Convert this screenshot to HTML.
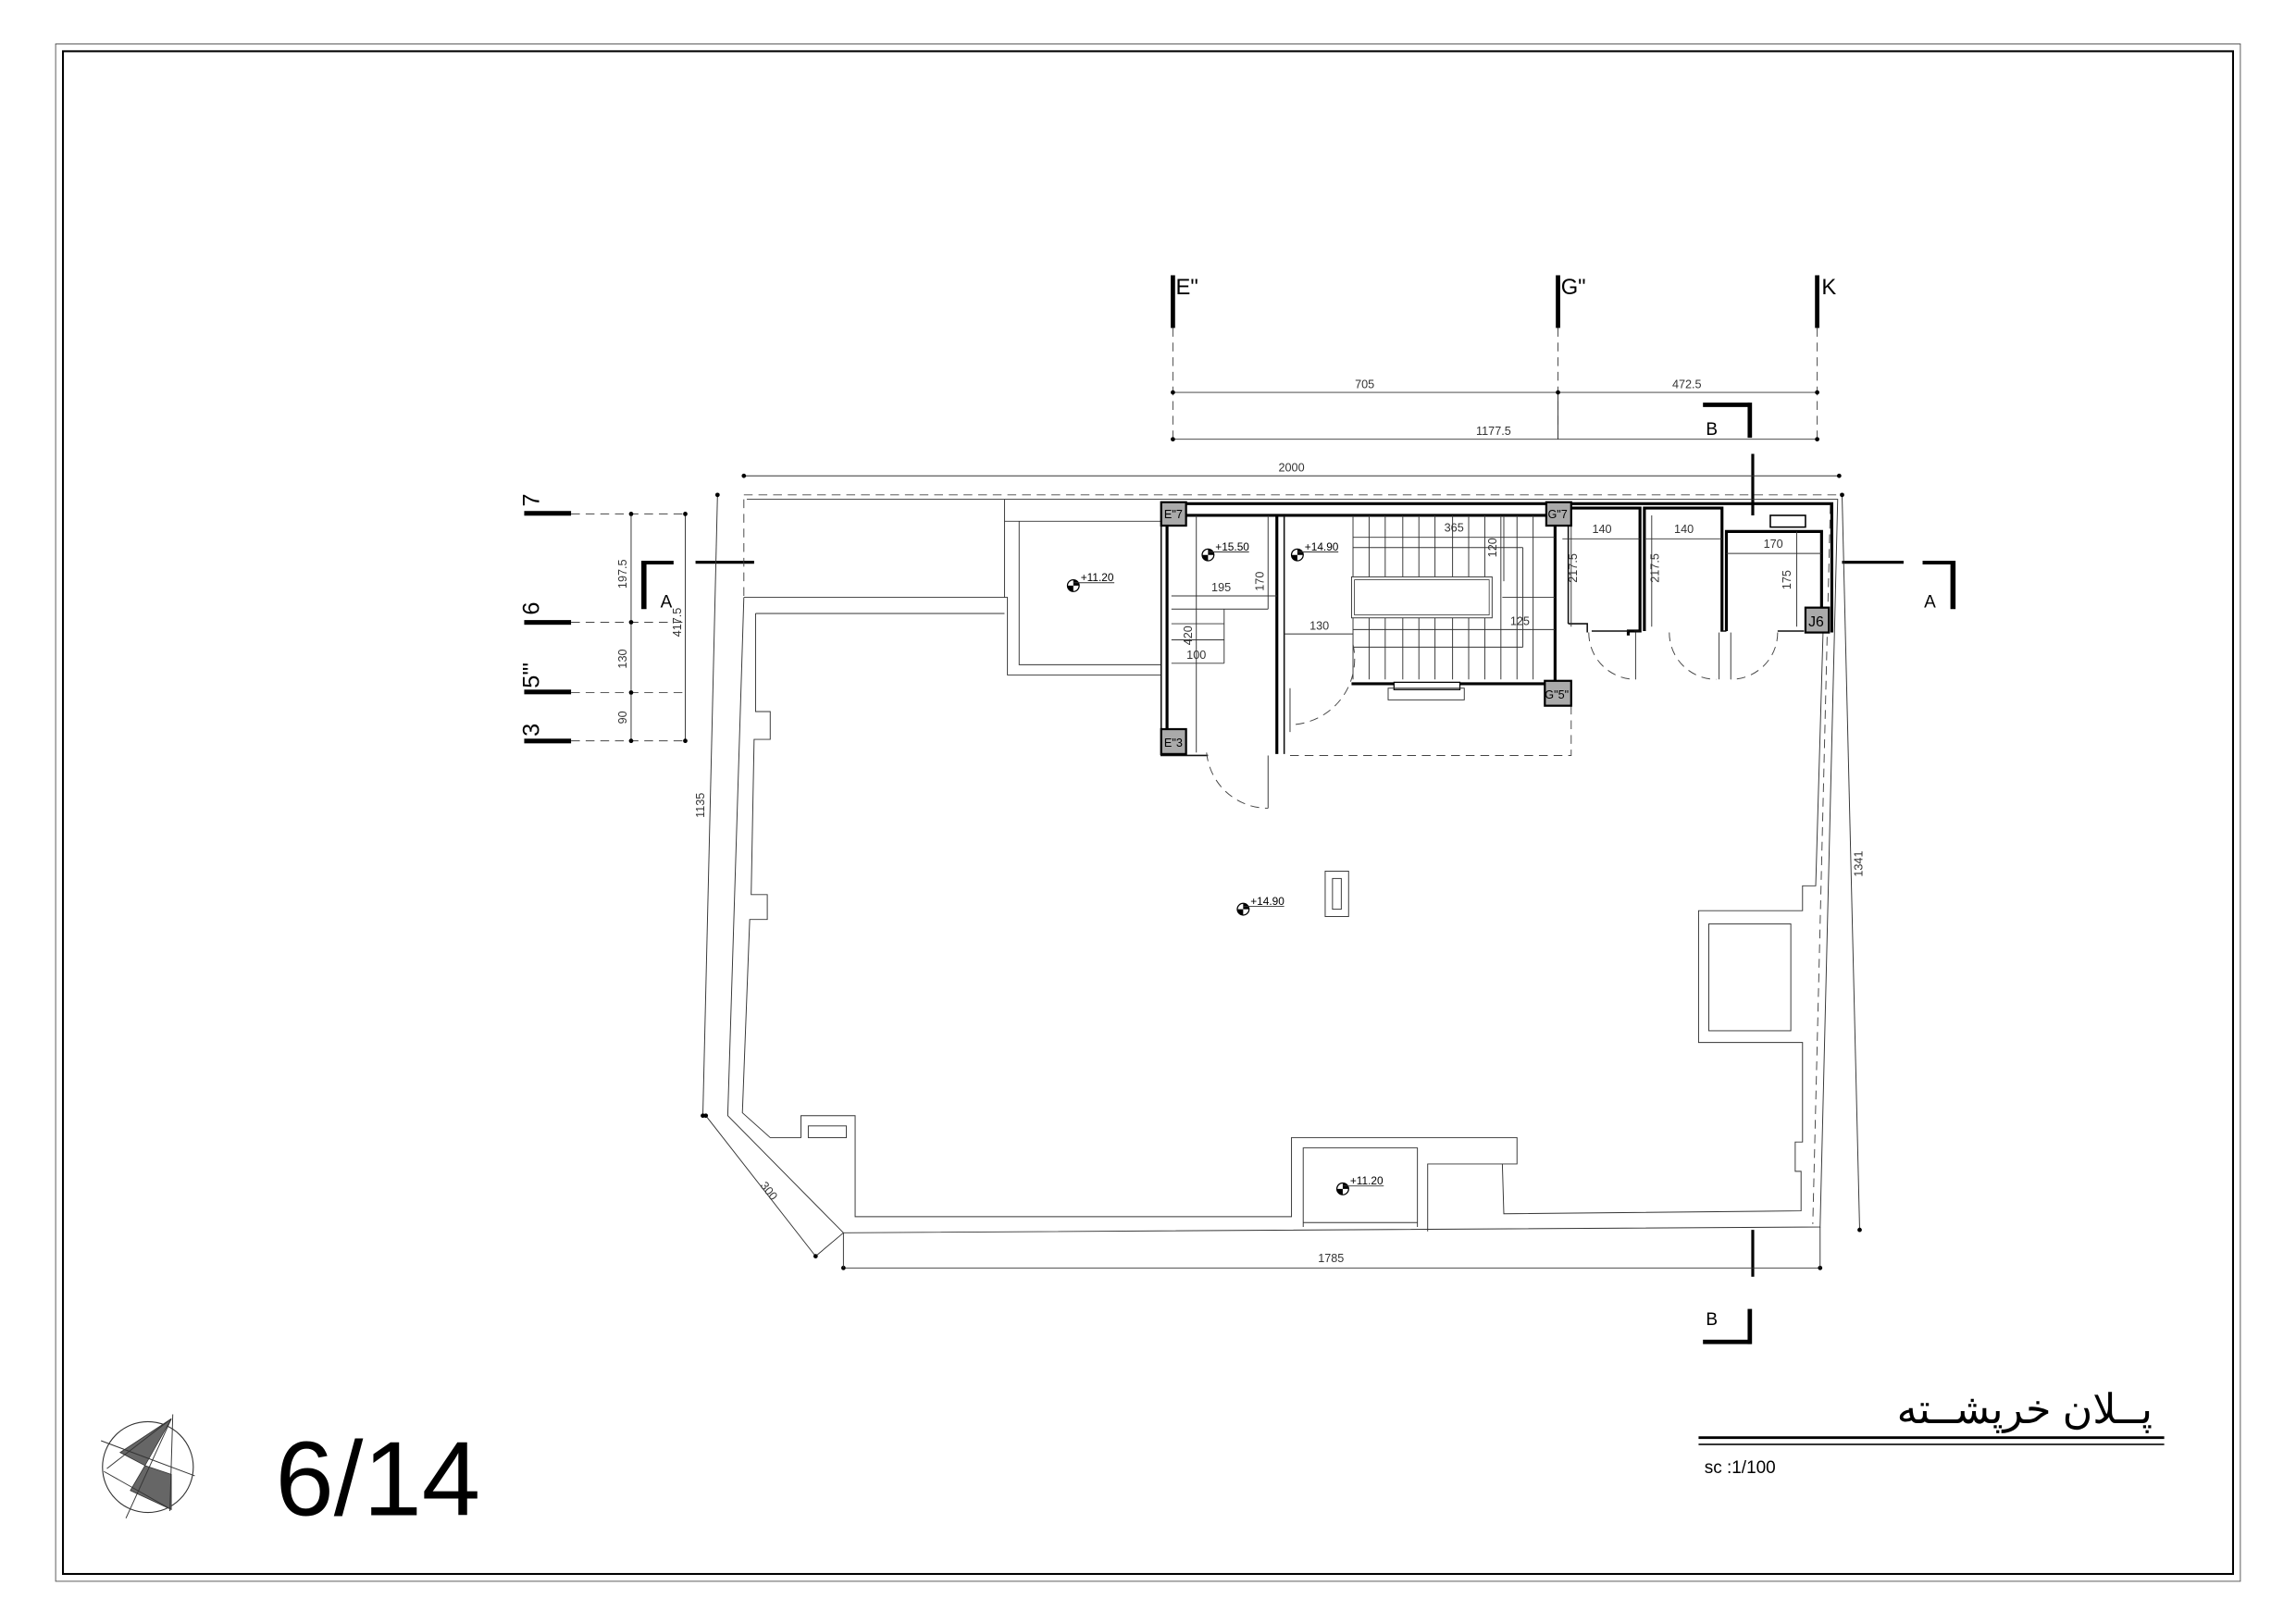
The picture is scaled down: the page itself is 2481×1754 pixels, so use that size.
<!DOCTYPE html>
<html><head><meta charset="utf-8"><style>
html,body{margin:0;padding:0;background:#fff}
svg{display:block}
text{font-family:"Liberation Sans",sans-serif}
.t{stroke:#333;stroke-width:.6;fill:none}
.m{stroke:#111;stroke-width:1;fill:none}
.k{stroke:#000;stroke-width:2;fill:none}
.d{stroke:#444;stroke-width:.6;fill:none;stroke-dasharray:6 4}
.dim{font-family:"Liberation Sans Narrow","Liberation Sans",sans-serif;font-size:8px;fill:#333}
.col{fill:#aaa;stroke:#000;stroke-width:1.4}
.cl{font-size:8px;fill:#000}
</style></head><body>
<svg width="2481" height="1754" viewBox="0 0 1568 1108.5" preserveAspectRatio="none" xmlns="http://www.w3.org/2000/svg">
<rect width="1568" height="1108.5" fill="#fff"/>
<rect x="38" y="30" width="1492" height="1050" fill="none" stroke="#555" stroke-width=".6"/>
<rect x="43" y="35" width="1482" height="1040" fill="none" stroke="#000" stroke-width="1.3"/>

<g>
<rect x="799.5" y="188" width="3" height="36" fill="#000"/>
<rect x="1062.5" y="188" width="3" height="36" fill="#000"/>
<rect x="1239.5" y="188" width="3" height="36" fill="#000"/>
<text x="803" y="201" font-size="15">E"</text>
<text x="1066" y="201" font-size="15">G"</text>
<text x="1244" y="201" font-size="15">K</text>
<line x1="801" y1="224" x2="801" y2="302" class="d"/>
<line x1="1064" y1="224" x2="1064" y2="302" class="d"/>
<line x1="1241" y1="224" x2="1241" y2="302" class="d"/>
<line x1="801" y1="268" x2="1241" y2="268" class="t"/>
<line x1="801" y1="300" x2="1241" y2="300" class="t"/>
<line x1="1064" y1="268" x2="1064" y2="300" class="t"/>
<circle cx="801" cy="268" r="1.5"/><circle cx="1064" cy="268" r="1.5"/><circle cx="1241" cy="268" r="1.5"/>
<circle cx="801" cy="300" r="1.5"/><circle cx="1241" cy="300" r="1.5"/>
<text x="932" y="265" class="dim" text-anchor="middle">705</text>
<text x="1152" y="265" class="dim" text-anchor="middle">472.5</text>
<text x="1020" y="297" class="dim" text-anchor="middle">1177.5</text>
</g>

<path d="M1163 275 H1195 V278 H1163Z" fill="#000"/>
<rect x="1193.5" y="275" width="3" height="24" fill="#000"/>
<text x="1165" y="297" font-size="12">B</text>
<line x1="1197" y1="310" x2="1197" y2="352" class="k" stroke-width="1.5"/>
<line x1="1197" y1="840" x2="1197" y2="872" class="k" stroke-width="1.5"/>
<rect x="1193.5" y="894" width="3" height="24" fill="#000"/>
<rect x="1163" y="915" width="33" height="3" fill="#000"/>
<text x="1165" y="905" font-size="12">B</text>

<g>
<rect x="358" y="349" width="32" height="3.2" fill="#000"/>
<rect x="358" y="423.5" width="32" height="3.2" fill="#000"/>
<rect x="358" y="471" width="32" height="3.2" fill="#000"/>
<rect x="358" y="504.5" width="32" height="3.2" fill="#000"/>
<text transform="translate(368,346) rotate(-90)" font-size="16">7</text>
<text transform="translate(368,420) rotate(-90)" font-size="16">6</text>
<text transform="translate(368,470) rotate(-90)" font-size="16">5"'</text>
<text transform="translate(368,503) rotate(-90)" font-size="16">3</text>
<line x1="390" y1="351" x2="470" y2="351" class="d"/>
<line x1="390" y1="425" x2="470" y2="425" class="d"/>
<line x1="390" y1="473" x2="470" y2="473" class="d"/>
<line x1="390" y1="506" x2="470" y2="506" class="d"/>
<line x1="431" y1="351" x2="431" y2="506" class="t"/>
<line x1="468" y1="351" x2="468" y2="506" class="t"/>
<circle cx="431" cy="351" r="1.5"/><circle cx="431" cy="425" r="1.5"/><circle cx="431" cy="473" r="1.5"/><circle cx="431" cy="506" r="1.5"/>
<circle cx="468" cy="351" r="1.5"/><circle cx="468" cy="506" r="1.5"/>
<text transform="translate(428,392) rotate(-90)" class="dim" text-anchor="middle">197.5</text>
<text transform="translate(428,450) rotate(-90)" class="dim" text-anchor="middle">130</text>
<text transform="translate(428,490) rotate(-90)" class="dim" text-anchor="middle">90</text>
<text transform="translate(465,425) rotate(-90)" class="dim" text-anchor="middle">417.5</text>
</g>

<rect x="438" y="383" width="22" height="2.5" fill="#000"/>
<rect x="438" y="383" width="3.5" height="33" fill="#000"/>
<text x="451" y="415" font-size="12">A</text>
<line x1="475" y1="384" x2="515" y2="384" class="k" stroke-width="1.3"/>
<rect x="1313" y="383" width="22" height="2.5" fill="#000"/>
<rect x="1332" y="383" width="3.5" height="33" fill="#000"/>
<text x="1314" y="415" font-size="12">A</text>
<line x1="1258" y1="384" x2="1300" y2="384" class="k" stroke-width="1.3"/>

<line x1="508" y1="325" x2="1256" y2="325" class="t"/>
<circle cx="508" cy="325" r="1.5"/><circle cx="1256" cy="325" r="1.5"/>
<text x="882" y="322" class="dim" text-anchor="middle">2000</text>
<line x1="490" y1="338" x2="480" y2="762" class="t"/>
<circle cx="490" cy="338" r="1.5"/><circle cx="480" cy="762" r="1.5"/>
<text transform="translate(481,550) rotate(-90)" class="dim" text-anchor="middle">1135</text>
<line x1="1258" y1="338" x2="1270" y2="840" class="t"/>
<circle cx="1258" cy="338" r="1.5"/><circle cx="1270" cy="840" r="1.5"/>
<text transform="translate(1272,590) rotate(-90)" class="dim" text-anchor="middle">1341</text>
<line x1="576" y1="866" x2="1243" y2="866" class="t"/>
<circle cx="576" cy="866" r="1.5"/><circle cx="1243" cy="866" r="1.5"/>
<line x1="576" y1="842" x2="576" y2="866" class="t"/><line x1="1243" y1="838" x2="1243" y2="866" class="t"/>
<text x="909" y="862" class="dim" text-anchor="middle">1785</text>
<line x1="482" y1="762" x2="557" y2="858" class="t"/>
<line x1="557" y1="858" x2="576" y2="842" class="t"/>
<circle cx="482" cy="762" r="1.5"/><circle cx="557" cy="858" r="1.5"/>
<text transform="translate(523,815) rotate(52)" class="dim" text-anchor="middle">300</text>

<line x1="508" y1="338" x2="1256" y2="338" class="d"/>
<path d="M510 341 L1255 341 L1243 838 L576 842 L497 762 L508 408" class="t"/>
<line x1="508" y1="341" x2="508" y2="408" class="d"/>
<line x1="1250" y1="345" x2="1238" y2="836" class="d"/>
<path d="M508 408 L688 408 L688 461 L793 461" class="t"/>
<path d="M686 341 L686 408" class="t"/>
<path d="M686 356 L793 356" class="t"/>
<path d="M696 356 L696 454 L793 454" class="t"/>
<path d="M516 419 L686 419" class="t"/>
<path d="M516 419 L516 486 L526 486 L526 505 L515 505 L513 611 L524 611 L524 628 L512 628 L507 760 L526 777 L547 777 L547 762 L584 762 L584 831 L882 831 L882 777 L1036 777 L1036 795 L1026 795 L1027 829 L1230 827 L1230 800 L1226 800 L1226 780 L1231 780 L1231 712 L1160 712 L1160 622 L1231 622 L1231 605 L1240 605 L1245 432" class="t"/>
<rect x="1167" y="631" width="56" height="73" class="t"/>
<rect x="552" y="769" width="26" height="8" class="t"/>
<path d="M890 838 L890 784 L968 784 L968 838" class="t"/>
<line x1="890" y1="835" x2="968" y2="835" class="t"/>
<path d="M975 841 L975 795 L1026 795" class="t"/>
<rect x="905" y="595" width="16" height="31" class="t"/>
<rect x="910" y="600" width="6" height="21" class="t"/>

<g>
<path d="M795 344 H1251 V432" class="k"/>
<path d="M793 343 V516 H825" class="m"/>
<line x1="797" y1="345" x2="797" y2="514" class="k"/>
<line x1="808" y1="352" x2="1058" y2="352" class="k"/>
<line x1="872" y1="352" x2="872" y2="515" class="k"/>
<line x1="877" y1="352" x2="877" y2="515" class="m"/>
<line x1="1062" y1="359" x2="1062" y2="466" class="k"/>
<line x1="1071" y1="359" x2="1071" y2="426" class="m"/>
<path d="M1071 426 L1084 426 L1084 432" class="m"/>
<line x1="923" y1="467" x2="1058" y2="467" class="k"/>
<rect x="952" y="466" width="45" height="5" fill="#fff" stroke="#000" stroke-width=".8"/>
<rect x="948" y="470" width="52" height="8" class="t"/>
<path d="M1073 482 V516 H878" class="d"/>
<g class="t">
<line x1="924" y1="352" x2="924" y2="464"/>
<line x1="935" y1="352" x2="935" y2="464"/><line x1="946" y1="352" x2="946" y2="464"/><line x1="958" y1="352" x2="958" y2="464"/><line x1="969" y1="352" x2="969" y2="464"/><line x1="980" y1="352" x2="980" y2="464"/><line x1="992" y1="352" x2="992" y2="464"/><line x1="1003" y1="352" x2="1003" y2="464"/><line x1="1014" y1="352" x2="1014" y2="464"/><line x1="1025" y1="352" x2="1025" y2="464"/><line x1="1036" y1="352" x2="1036" y2="464"/><line x1="1047" y1="352" x2="1047" y2="464"/>
<line x1="924" y1="367" x2="1062" y2="367"/>
<line x1="924" y1="374" x2="1040" y2="374"/><line x1="1040" y1="374" x2="1040" y2="442"/><line x1="924" y1="442" x2="1040" y2="442"/>
<line x1="924" y1="430" x2="1062" y2="430"/>
<line x1="1026" y1="408" x2="1062" y2="408"/>
<line x1="1027" y1="352" x2="1027" y2="397"/>
<line x1="877" y1="433" x2="924" y2="433"/>
</g>
<rect x="923" y="394" width="96" height="28" fill="#fff" stroke="#333" stroke-width=".6"/>
<rect x="925" y="396" width="92" height="24" fill="none" stroke="#333" stroke-width=".5"/>
<g class="t">
<line x1="800" y1="407" x2="872" y2="407"/><line x1="800" y1="416" x2="866" y2="416"/>
<line x1="866" y1="352" x2="866" y2="416"/>
<line x1="817" y1="352" x2="817" y2="514"/>
<line x1="800" y1="426" x2="836" y2="426"/><line x1="800" y1="437" x2="836" y2="437"/>
<line x1="836" y1="416" x2="836" y2="453"/>
<line x1="800" y1="453" x2="836" y2="453"/>
</g>
<path d="M1067 347 H1120 V431 H1112 V434 M1123 431 V347 H1176 V431 M1179 431 V363 H1244 V420" class="k" stroke-width="1.6"/>
<g class="t">
<line x1="1073" y1="352" x2="1073" y2="428"/>
<line x1="1067" y1="368" x2="1120" y2="368"/>
<line x1="1123" y1="368" x2="1176" y2="368"/>
<line x1="1179" y1="378" x2="1244" y2="378"/>
<line x1="1128" y1="352" x2="1128" y2="428"/>
<line x1="1227" y1="363" x2="1227" y2="428"/>
</g>
<rect x="1209" y="352" width="24" height="8" fill="none" stroke="#000" stroke-width="1"/>
<g class="d" stroke-dasharray="3 2">
<path d="M1085 432 A32 32 0 0 0 1117 464"/>
<path d="M1140 432 A32 32 0 0 0 1172 464"/>
<path d="M1214 432 A32 32 0 0 1 1182 464"/>
<path d="M924 440 A45 45 0 0 1 881 495"/>
<path d="M824 514 A42 42 0 0 0 866 552"/>
</g>
<g class="t">
<line x1="1117" y1="432" x2="1117" y2="464"/><line x1="1174" y1="432" x2="1174" y2="464"/><line x1="1182" y1="432" x2="1182" y2="464"/>
<line x1="881" y1="470" x2="881" y2="500"/><line x1="866" y1="516" x2="866" y2="552"/>
</g>
<path d="M1087 431 H1112 M1116 431 H1120 M1175 431 H1179 M1214 431 H1232" class="m" stroke-width="1.6"/>
<rect x="793" y="343" width="17" height="16" class="col"/><text x="795" y="354" class="cl">E"7</text>
<rect x="793" y="498" width="17" height="17" class="col"/><text x="795" y="510" class="cl">E"3</text>
<rect x="1056" y="343" width="17" height="16" class="col"/><text x="1057" y="354" class="cl">G"7</text>
<rect x="1055" y="465" width="18" height="17" class="col"/><text x="1055" y="477" class="cl">G"5"</text>
<rect x="1233" y="415" width="16" height="17" class="col"/><text x="1235" y="428" font-size="10">J6</text>
</g>

<g font-size="7.5">
<g transform="translate(825,379)"><circle r="4" fill="#fff" stroke="#000" stroke-width=".8"/><path d="M-4 0 A4 4 0 0 0 0 4 V0Z M4 0 A4 4 0 0 0 0 -4 V0Z" fill="#000"/><line x1="0" y1="-2" x2="28" y2="-2" class="t"/><text x="5" y="-3">+15.50</text></g>
<g transform="translate(886,379)"><circle r="4" fill="#fff" stroke="#000" stroke-width=".8"/><path d="M-4 0 A4 4 0 0 0 0 4 V0Z M4 0 A4 4 0 0 0 0 -4 V0Z" fill="#000"/><line x1="0" y1="-2" x2="28" y2="-2" class="t"/><text x="5" y="-3">+14.90</text></g>
<g transform="translate(733,400)"><circle r="4" fill="#fff" stroke="#000" stroke-width=".8"/><path d="M-4 0 A4 4 0 0 0 0 4 V0Z M4 0 A4 4 0 0 0 0 -4 V0Z" fill="#000"/><line x1="0" y1="-2" x2="28" y2="-2" class="t"/><text x="5" y="-3">+11.20</text></g>
<g transform="translate(849,621)"><circle r="4" fill="#fff" stroke="#000" stroke-width=".8"/><path d="M-4 0 A4 4 0 0 0 0 4 V0Z M4 0 A4 4 0 0 0 0 -4 V0Z" fill="#000"/><line x1="0" y1="-2" x2="28" y2="-2" class="t"/><text x="5" y="-3">+14.90</text></g>
<g transform="translate(917,812)"><circle r="4" fill="#fff" stroke="#000" stroke-width=".8"/><path d="M-4 0 A4 4 0 0 0 0 4 V0Z M4 0 A4 4 0 0 0 0 -4 V0Z" fill="#000"/><line x1="0" y1="-2" x2="28" y2="-2" class="t"/><text x="5" y="-3">+11.20</text></g>
</g>
<g class="dim">
<text x="993" y="363" text-anchor="middle">365</text>
<text transform="translate(1022,374) rotate(-90)" text-anchor="middle">120</text>
<text x="1038" y="427" text-anchor="middle">125</text>
<text x="901" y="430" text-anchor="middle">130</text>
<text x="834" y="404" text-anchor="middle">195</text>
<text transform="translate(863,397) rotate(-90)" text-anchor="middle">170</text>
<text transform="translate(814,434) rotate(-90)" text-anchor="middle">420</text>
<text x="817" y="450" text-anchor="middle">100</text>
<text x="1094" y="364" text-anchor="middle">140</text>
<text x="1150" y="364" text-anchor="middle">140</text>
<text x="1211" y="374" text-anchor="middle">170</text>
<text transform="translate(1077,388) rotate(-90)" text-anchor="middle">217.5</text>
<text transform="translate(1133,388) rotate(-90)" text-anchor="middle">217.5</text>
<text transform="translate(1223,396) rotate(-90)" text-anchor="middle">175</text>
</g>

<g>
<circle cx="101" cy="1002" r="31" fill="none" stroke="#333" stroke-width=".7"/>
<path d="M117 969 L82 992 L99 1001 Z" fill="#666" stroke="#333" stroke-width=".5"/>
<path d="M99 1001 L117 1007 L117 1031 L89 1018 Z" fill="#666" stroke="#333" stroke-width=".5"/>
<line x1="118" y1="966" x2="116" y2="1032" stroke="#333" stroke-width=".6"/>
<line x1="69" y1="984" x2="133" y2="1008" stroke="#333" stroke-width=".6"/>
<line x1="73" y1="1003" x2="117" y2="969" stroke="#333" stroke-width=".6"/>
<line x1="71" y1="1005" x2="117" y2="1031" stroke="#333" stroke-width=".6"/>
<line x1="117" y1="969" x2="86" y2="1037" stroke="#333" stroke-width=".6"/>
</g>
<text x="188" y="1035" font-size="72">6/14</text>

<text x="1470" y="972" font-size="28" text-anchor="end" font-family="'DejaVu Sans',sans-serif">پــلان خرپشــته</text>
<rect x="1160" y="981" width="318" height="1.8" fill="#000"/>
<rect x="1160" y="986" width="318" height="1" fill="#000"/>
<text x="1164" y="1006" font-size="12">sc :1/100</text>
</svg>
</body></html>
